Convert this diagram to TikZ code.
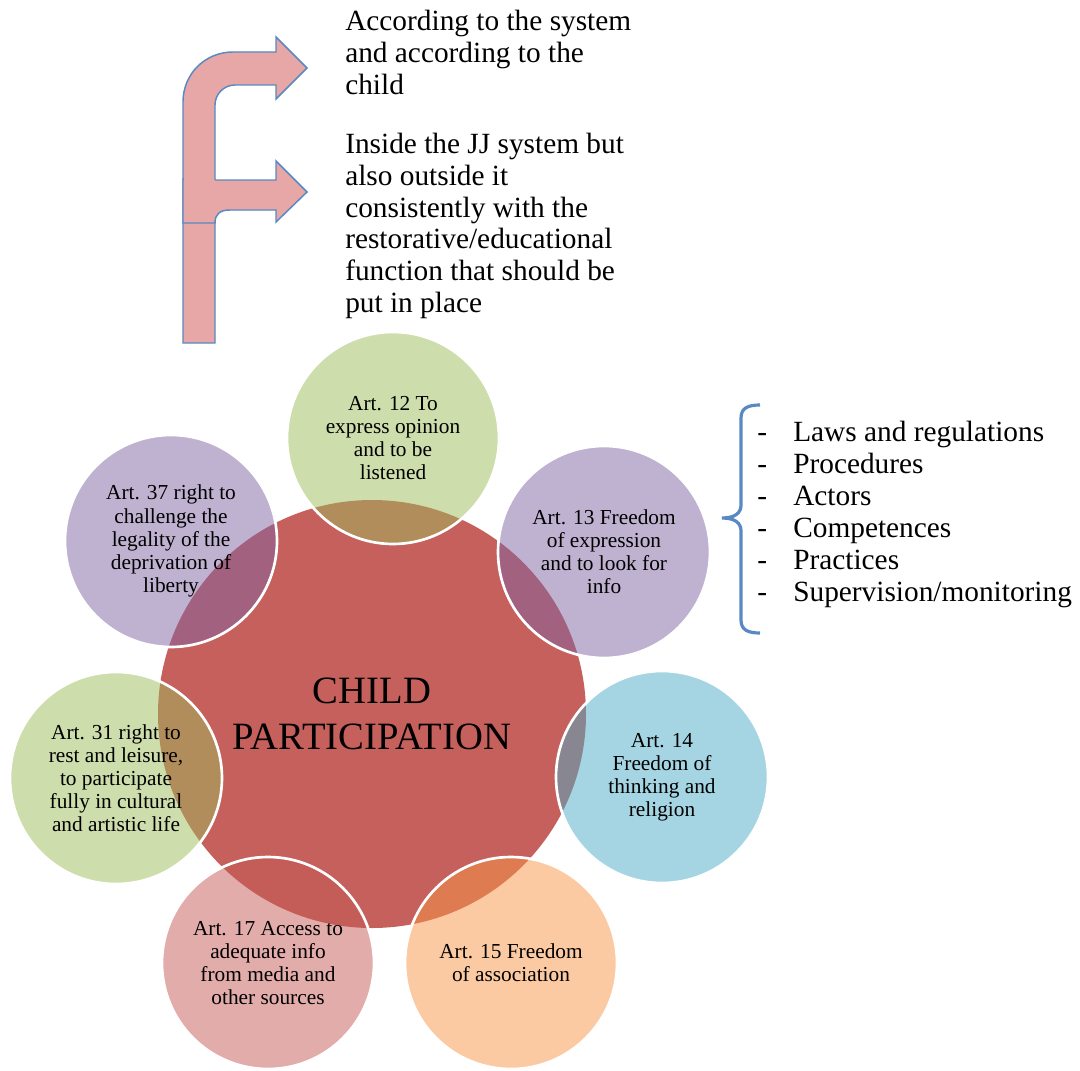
\documentclass[tikz,border=0pt]{standalone}
\usepackage{fontspec}
\setmainfont{Liberation Serif}

\definecolor{hubred}{HTML}{C6605C}
\definecolor{artgreen}{HTML}{9BBB59}
\definecolor{artpurple}{HTML}{8064A2}
\definecolor{artblue}{HTML}{4BACC6}
\definecolor{artorange}{HTML}{F79646}
\definecolor{artred}{HTML}{C45A56}
\definecolor{arrowpink}{HTML}{E6A7A6}
\definecolor{edgeblue}{HTML}{5A88C3}

\begin{document}
\begin{tikzpicture}[x=0.75pt,y=-0.75pt,
    hub/.style={circle,fill=hubred,minimum size=321pt,inner sep=0pt,align=center,
      font=\fontsize{29}{35}\selectfont},
    art/.style={circle,fill opacity=0.5,text opacity=1,draw=white,line width=2pt,
      minimum size=159pt,inner sep=0pt,align=center,font=\fontsize{16}{17.3}\selectfont},
    note/.style={anchor=north west,inner sep=0pt,align=left,font=\fontsize{22}{23.8}\selectfont},
    item/.style={anchor=base west,inner sep=0pt,font=\fontsize{22}{23.8}\selectfont},
    bentarrow/.style={fill=arrowpink,draw=edgeblue,line width=1.1pt}]
      \useasboundingbox (0,0) rectangle (1080,1070);

      % centre and the articles round it
      \node[hub] (hub) at (372,714) {CHILD\\PARTICIPATION};

      \node[art,fill=artgreen]  (art12) at (393,438) {Art. 12 To\\express opinion\\and to be\\listened};
      \node[art,fill=artpurple] (art13) at (604,552) {Art. 13 Freedom\\of expression\\and to look for\\info};
      \node[art,fill=artpurple] (art37) at (171,541) {Art. 37 right to\\challenge the\\legality of the\\deprivation of\\liberty};
      \node[art,fill=artgreen]  (art31) at (116,778) {Art. 31 right to\\rest and leisure,\\to participate\\fully in cultural\\and artistic life};
      \node[art,fill=artblue]   (art14) at (662,777) {Art. 14\\Freedom of\\thinking and\\religion};
      \node[art,fill=artred]    (art17) at (268,963) {Art. 17 Access to\\adequate info\\from media and\\other sources};
      \node[art,fill=artorange] (art15) at (511,963) {Art. 15 Freedom\\of association};

      % bent arrows
      \draw[bentarrow] (183,343) -- (183,102) .. controls (183,74) and (205,52) .. (233,52)
        -- (276,52) -- (276,37) -- (307,68) -- (276,99) -- (276,85) -- (235,85)
        .. controls (224,85) and (215,94) .. (215,105) -- (215,343) -- cycle;
      \fill[arrowpink] (183,223) -- (215,223) .. controls (215,214) and (220,210) .. (230,210)
        -- (276,210) -- (276,222) -- (307,192) -- (276,161) -- (276,180) -- (183,180) -- cycle;
      \draw[edgeblue,line width=1.1pt] (183,178) -- (183,223) -- (215,223)
        .. controls (215,214) and (220,210) .. (230,210)
        -- (276,210) -- (276,222) -- (307,192) -- (276,161) -- (276,180) -- (215,180);

      \node[note] (cond1) at (345,10) {According to the system\\and according to the\\child};
      \node[note] (cond2) at (345,133) {Inside the JJ system but\\also outside it\\consistently with the\\restorative/educational\\function that should be\\put in place};

      % brace and list
      \coordinate (bracetop) at (760,405);
      \coordinate (bracetip) at (722,518);
      \coordinate (bracebot) at (760,633);
      \draw[edgeblue,line width=2.4pt] (bracetop) .. controls (748,405) and (741,408) .. (741,418)
        -- (741,505) .. controls (741,513) and (735,518) .. (bracetip)
        .. controls (735,518) and (741,523) .. (741,531)
        -- (741,620) .. controls (741,630) and (748,633) .. (bracebot);

      \foreach \txt [count=\i] in {Laws and regulations,Procedures,Actors,Competences,Practices,Supervision/monitoring}
      {
        \node[item] (item\i) at (793,409+32*\i) {\txt};
        \node[item] (dash\i) at (757,409+32*\i) {-};
      }
\end{tikzpicture}
\end{document}
